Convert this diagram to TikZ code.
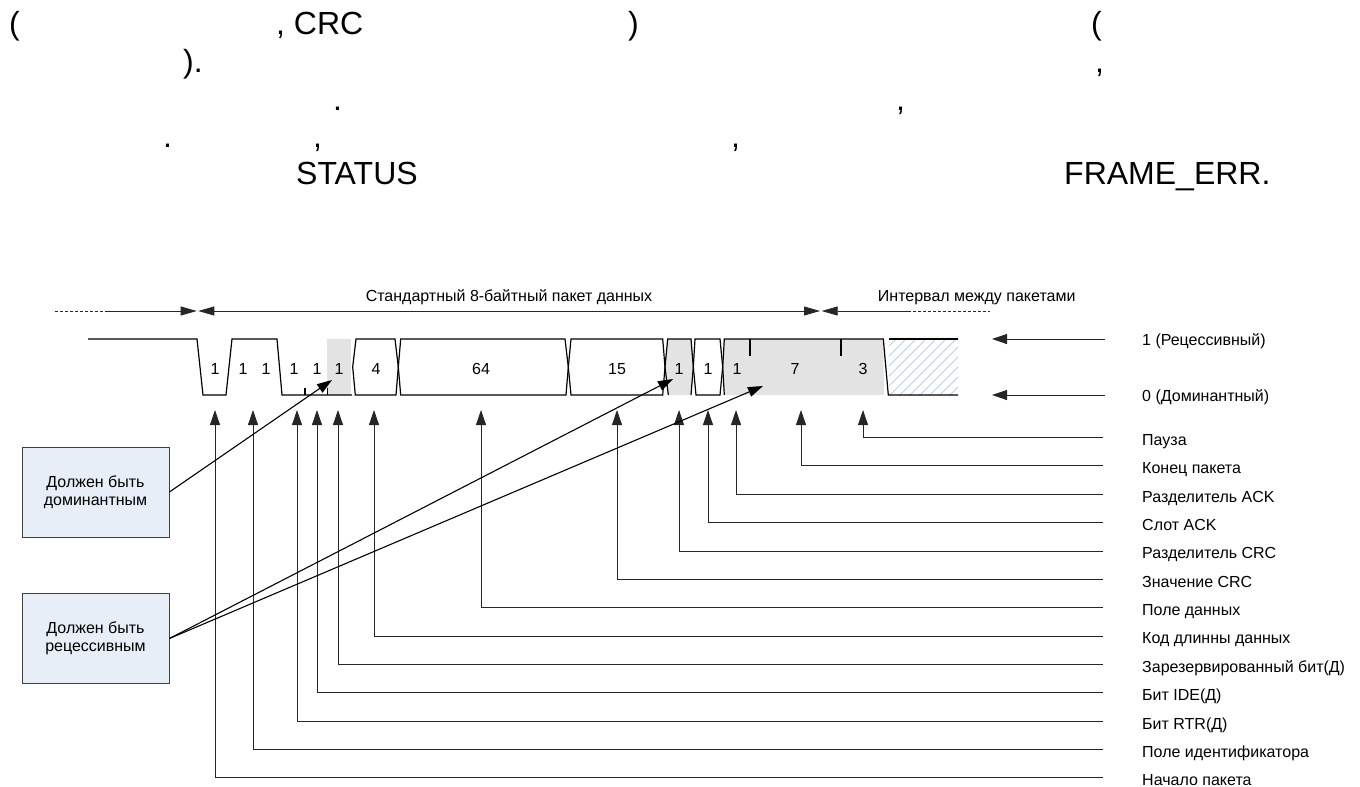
\documentclass[tikz,border=0pt]{standalone}
\usepackage{fontspec}
\setmainfont{Liberation Sans}
\usetikzlibrary{arrows.meta}
\definecolor{boxfill}{HTML}{E8EEF8}
\definecolor{graybit}{HTML}{E3E3E3}
\definecolor{hatchcol}{HTML}{BCCDE8}
\tikzset{dimtip/.tip={Triangle[length=16pt,width=9pt]}}
\begin{document}
\begin{tikzpicture}[x=1pt,y=-1pt,
  big/.style={font=\fontsize{32}{38}\selectfont, inner sep=0pt, anchor=base west},
  lbl/.style={font=\fontsize{16}{18}\selectfont, inner sep=0pt},
  wave/.style={line width=1.2pt, line join=miter, draw=black},
  conn/.style={line width=0.8pt, draw=black!85},
  diag/.style={line width=1.1pt, draw=black},
  tip/.style={-{Triangle[length=15pt,width=10pt]}},
  notebox/.style={draw=black!75, line width=0.8pt, fill=boxfill, minimum width=147pt, minimum height=90pt, inner sep=0pt, align=center, font=\fontsize{16}{18}\selectfont}
]
\useasboundingbox (0,0) rectangle (1360,787);

% ---- top text fragments ----
\node[big] (t1) at (9,34) {(};
\node[big] (t2) at (276,34) {, CRC};
\node[big] (t3) at (628,34) {)};
\node[big] (t4) at (1091,34) {(};
\node[big] (t5) at (183,72) {).};
\node[big] (t6) at (1095,72) {,};
\node[big] (t7) at (333,110) {.};
\node[big] (t8) at (896,110) {,};
\node[big] (t9) at (163,147) {.};
\node[big] (t10) at (313,147) {,};
\node[big] (t11) at (731,147) {,};
\node[big] (t12) at (296,184) {STATUS};
\node[big] (t13) at (1064,184) {FRAME\_ERR.};

% ---- dimension lines ----
\coordinate (dA) at (55,311);
\coordinate (dB) at (108,311);
\coordinate (dC) at (196.7,311);
\coordinate (dD) at (198.3,311);
\coordinate (dE) at (820,311);
\coordinate (dF) at (821.7,311);
\coordinate (dG) at (908,311);
\coordinate (dH) at (990,311);
\draw[conn, dash pattern=on 3pt off 2pt] (dA) -- (dB);
\draw[conn, -dimtip] (dB) -- (dC);
\draw[conn, dimtip-dimtip] (dD) -- (dE);
\draw[conn, dimtip-] (dF) -- (dG);
\draw[conn, dash pattern=on 3pt off 2pt] (dG) -- (dH);
\node[lbl, anchor=base] (frameTxt) at (509,301) {Стандартный 8-байтный пакет данных};
\node[lbl, anchor=base] (ifsTxt) at (976.7,301) {Интервал между пакетами};

% ---- gray fills ----
\fill[graybit] (327,339) rectangle (351,395);
\fill[graybit] (667.7,339) -- (691,339) -- (693.3,367) -- (691,395) -- (668.3,395) -- (665,367) -- cycle;
\fill[graybit] (724.3,339) -- (883.3,339) -- (884,395) -- (724.3,395) -- (722.7,367) -- cycle;

% ---- hatched interframe region ----
\begin{scope}
\clip (889,339) rectangle (958,395);
\foreach \k in {0,...,14} {
  \draw[hatchcol, line width=0.8pt] ({835+\k*10},400) -- ++(65,-65);
}
\end{scope}

% ---- waveform ----
\draw[wave] (88,339) -- (197,339) -- (203,395) -- (226,395) -- (232,339) -- (277,339) -- (282,395) -- (352,395);
\draw[wave] (356,339) -- (395,339) -- (398.3,367) -- (396,395) -- (355.3,395) -- (352.7,367) -- cycle;
\draw[wave] (400.7,339) -- (565,339) -- (568.3,367) -- (566,395) -- (400.7,395) -- (398.3,367) -- cycle;
\draw[wave] (571,339) -- (662.7,339) -- (665,367) -- (662.7,395) -- (571,395) -- (568.3,367) -- cycle;
\draw[wave] (668.3,395) -- (665,367) -- (667.7,339) -- (691,339) -- (693.3,367) -- (691,395);
\draw[wave] (695,339) -- (720,339) -- (722.7,367) -- (720,395) -- (696,395) -- (693.3,367) -- cycle;
\draw[wave] (724.3,395) -- (722.7,367) -- (724.3,339) -- (883.3,339) -- (888.3,395) -- (958,395);
\draw[wave] (889.3,339) -- (958,339);
% ticks
\draw[wave] (305,395) -- (305,388);
\draw[wave] (327.3,395) -- (327.3,388);
\draw[wave] (750,339) -- (750,356);
\draw[wave] (841,339) -- (841,356);

% ---- field labels ----
\foreach \x/\t [count=\n] in {215/1, 243/1, 266/1, 294/1, 317/1, 339/1, 376/4, 481/64, 617/15, 679/1, 708/1, 737/1, 795/7, 863/3} {
  \node[lbl, anchor=base] (f\n) at (\x,374) {\t};
}

% ---- level legend ----
\node[lbl, anchor=base west] (rec) at (1142,345) {1 (Рецессивный)};
\node[lbl, anchor=base west] (dom) at (1142,401) {0 (Доминантный)};
\coordinate (recS) at (1105,339);
\coordinate (recT) at (992,339);
\coordinate (domS) at (1105,395);
\coordinate (domT) at (992,395);
\draw[conn, tip] (recS) -- (recT);
\draw[conn, tip] (domS) -- (domT);

% ---- field callouts ----
\foreach \x/\t [count=\n from 0] in {
  863/Пауза,
  801/Конец пакета,
  736/Разделитель ACK,
  708/Слот ACK,
  679/Разделитель CRC,
  617/Значение CRC,
  481/Поле данных,
  374/Код длинны данных,
  338/Зарезервированный бит(Д),
  317/Бит IDE(Д),
  297/Бит RTR(Д),
  253/Поле идентификатора,
  215/Начало пакета} {
  \coordinate (e\n) at (1103,{437.5+28.35*\n});
  \coordinate (v\n) at (\x,410);
  \node[lbl, anchor=base west] (r\n) at (1142,{445.5+28.35*\n}) {\t};
  \draw[conn, tip] (e\n) -| (v\n);
}

% ---- note boxes ----
\node[notebox] (boxD) at (95.5,492) {Должен быть\\доминантным};
\node[notebox] (boxR) at (95.5,638.5) {Должен быть\\рецессивным};
\coordinate (aD) at (332,380);
\coordinate (aR1) at (673,379);
\coordinate (aR2) at (763,386);
\draw[diag, tip] (boxD.east) -- (aD);
\draw[diag, tip] (boxR.east) -- (aR1);
\draw[diag, tip] (boxR.east) -- (aR2);
\end{tikzpicture}
\end{document}
